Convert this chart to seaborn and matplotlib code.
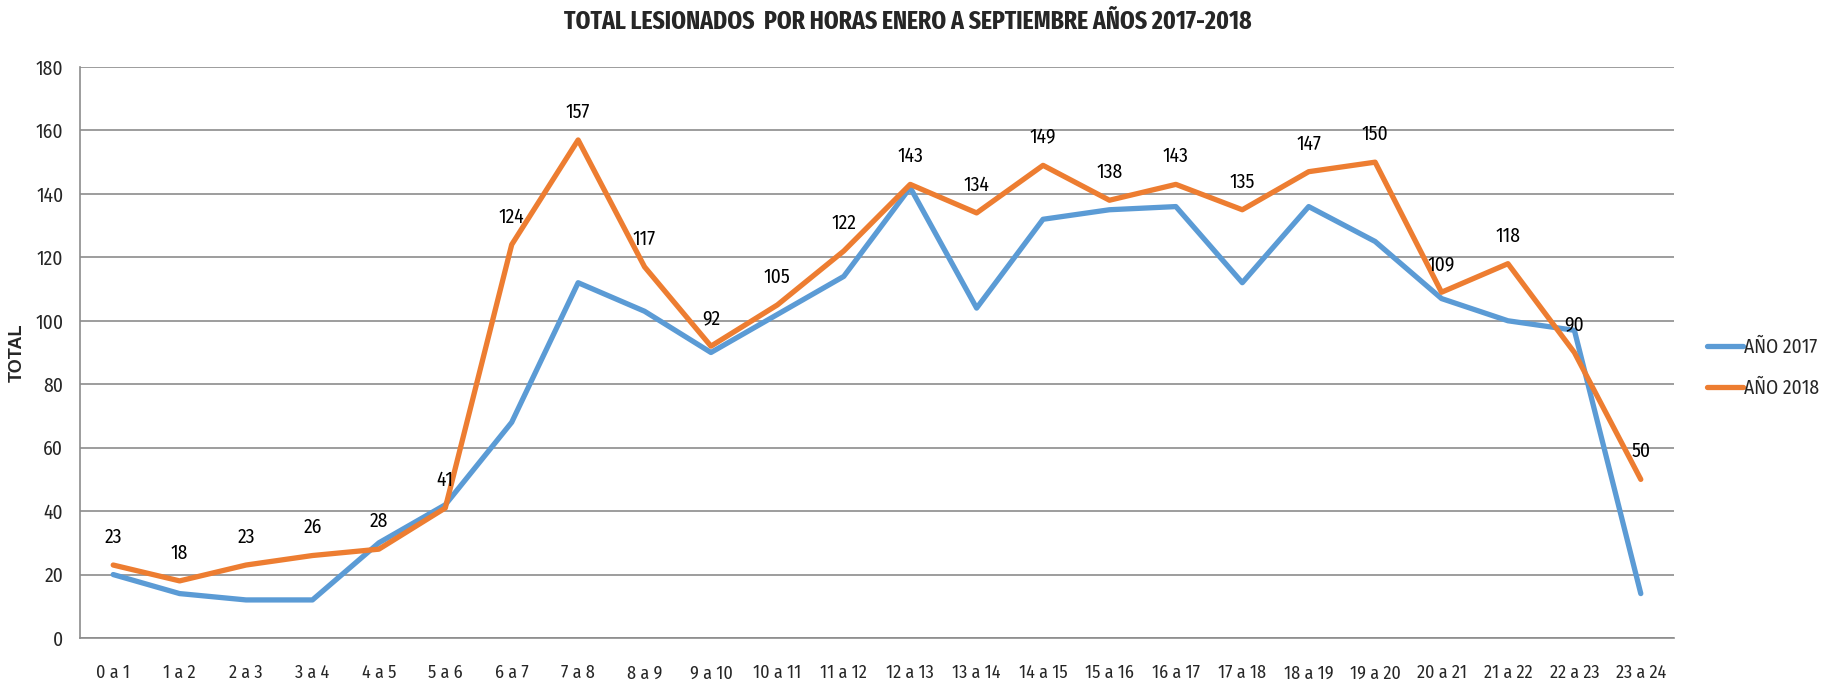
import pandas as pd
import matplotlib
matplotlib.use('Agg')
import matplotlib.pyplot as plt
import seaborn as sns

# datos
horas = ['0 a 1', '1 a 2', '2 a 3', '3 a 4', '4 a 5', '5 a 6', '6 a 7', '7 a 8',
         '8 a 9', '9 a 10', '10 a 11', '11 a 12', '12 a 13', '13 a 14', '14 a 15',
         '15 a 16', '16 a 17', '17 a 18', '18 a 19', '19 a 20', '20 a 21',
         '21 a 22', '22 a 23', '23 a 24']
anio_2017 = [20, 14, 12, 12, 30, 42, 68, 112, 103, 90, 102, 114, 142, 104, 132,
             135, 136, 112, 136, 125, 107, 100, 97, 14]
anio_2018 = [23, 18, 23, 26, 28, 41, 124, 157, 117, 92, 105, 122, 143, 134, 149,
             138, 143, 135, 147, 150, 109, 118, 90, 50]
series = ['AÑO 2017', 'AÑO 2018']
colores = ['#5B9BD5', '#ED7D31']

df = pd.DataFrame({
    'hora': horas * 2,
    'total': anio_2017 + anio_2018,
    'serie': [series[0]] * len(horas) + [series[1]] * len(horas),
})

sns.set_style('white')
# fuente estrecha parecida a la del original
plt.rcParams['font.family'] = ['Fira Sans Condensed', 'DejaVu Sans']

fig = plt.figure(figsize=(18.27, 6.81), dpi=100)
ax = fig.add_axes([80 / 1827, 1 - 638 / 681, (1674 - 80) / 1827, (638 - 67) / 681])

sns.lineplot(data=df, x='hora', y='total', hue='serie', palette=colores,
             sort=False, linewidth=3.8, ax=ax, legend=True)

# etiquetas de la serie 2018
for i, v in enumerate(anio_2018):
    ax.annotate(str(v), (i, v), xytext=(0, 20), textcoords='offset points',
                ha='center', va='center', fontsize=14, color='black')

ax.set_xlim(-0.5, len(horas) - 0.5)
ax.set_ylim(0, 180)
ax.set_yticks(range(0, 181, 20))
ax.grid(axis='y', color='#8c8c8c', linewidth=1.2)
ax.set_axisbelow(True)
for s in ['top', 'right']:
    ax.spines[s].set_visible(False)
for s in ['left', 'bottom']:
    ax.spines[s].set_color('#8c8c8c')
    ax.spines[s].set_linewidth(1.2)
ax.tick_params(axis='y', length=0, pad=12, labelsize=14)
ax.tick_params(axis='x', length=0, pad=19, labelsize=13)
ax.set_xlabel('')
ax.set_ylabel('TOTAL', fontsize=13, fontweight='bold', family=['Liberation Sans', 'DejaVu Sans'])
ax.yaxis.set_label_coords(-54 / 1594, 0.5)

ax.get_legend().remove()
handles, labels = ax.get_legend_handles_labels()
fig.legend(handles, labels, loc='center left', bbox_to_anchor=(1697 / 1827, 1 - 368 / 681),
           frameon=False, fontsize=14, handlelength=1.85, handletextpad=0.05,
           labelspacing=1.1, borderpad=0)

fig.suptitle('TOTAL LESIONADOS  POR HORAS ENERO A SEPTIEMBRE AÑOS 2017-2018',
             x=908 / 1827, y=1 - 22 / 681, va='center', fontsize=18.5, fontweight='bold',
             family=['Fira Sans Extra Condensed', 'DejaVu Sans'])

fig.savefig('out.png', dpi=100)
